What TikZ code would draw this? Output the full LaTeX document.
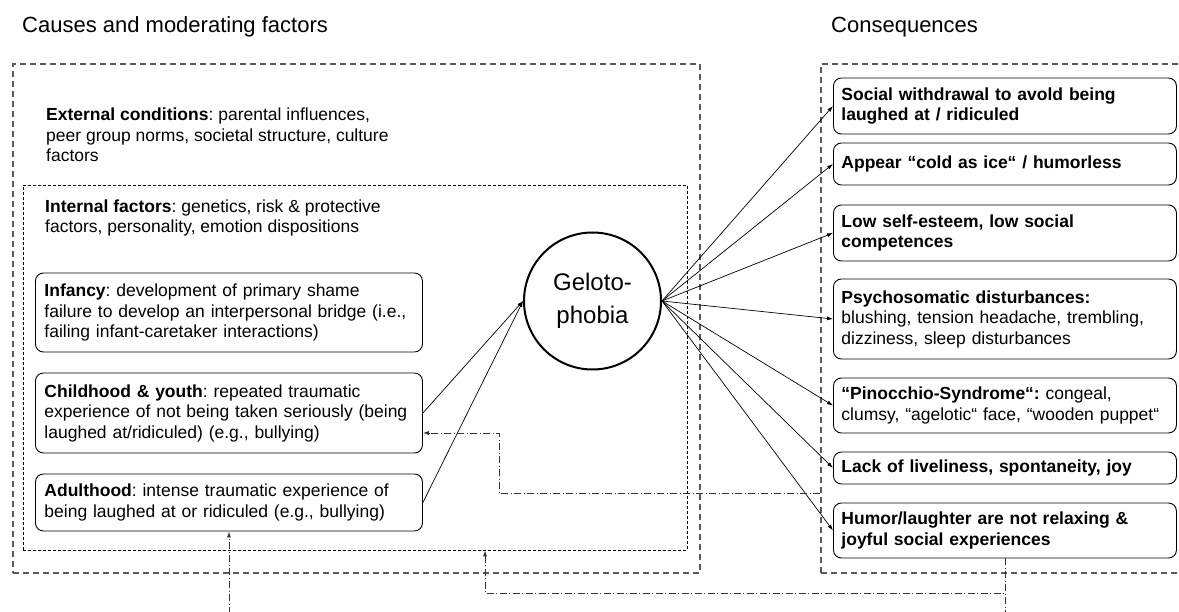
\documentclass[tikz,border=0pt]{standalone}
\usepackage{fontspec}
\setmainfont{Liberation Sans}
\usetikzlibrary{arrows.meta,fit}
\definecolor{framegray}{HTML}{5A5A5A}
\definecolor{linegray}{HTML}{333333}
\frenchspacing

\begin{document}
\begin{tikzpicture}[x=1pt, y=-1pt,
        txt/.style={font=\fontsize{17.5}{20.5}\selectfont, align=left, inner sep=0pt},
        headline/.style={font=\fontsize{22}{26}\selectfont, inner sep=0pt, anchor=west},
        causebox/.style={draw, line width=0.9pt, rounded corners=8pt, txt, text width=369pt, inner xsep=9pt, anchor=west},
        conbox/.style={draw, line width=0.9pt, rounded corners=8pt, txt, text width=327pt, inner xsep=8pt, anchor=west},
        groupbox/.style={draw=framegray, line width=1.1pt, dash pattern=on 6pt off 4pt, inner sep=0pt},
        innerbox/.style={draw, line width=0.7pt, dash pattern=on 3pt off 2pt, inner sep=0pt},
        conn/.style={-{Latex[length=6pt,width=4pt]}, line width=0.7pt},
        feedback/.style={-{Latex[length=6pt,width=4pt]}, draw=linegray, line width=0.8pt, dash pattern=on 7pt off 2.5pt on 1pt off 2.5pt}]
                    \useasboundingbox (0,0) rectangle (1179,612);
                    \clip (0,0) rectangle (1179,612);

                    % 見出し
                    \node[headline] (causestitle) at (22,27) {Causes and moderating factors};
                    \node[headline] (conseqtitle) at (831,27) {Consequences};

                    % 枠
                    \node[groupbox, fit={(13,64) (700,573)}] (causes) {};
                    \node[innerbox, fit={(23,185) (687,550)}] (internal) {};
                    \node[groupbox, fit={(821,64) (1200,573)}] (conseq) {};

                    % 原因
                    \node[txt, anchor=west] (external) at (46,135) {\textbf{External conditions}: parental influences,\\peer group norms, societal structure, culture\\factors};
                    \node[txt, anchor=west] (internaltxt) at (45,218) {\textbf{Internal factors}: genetics, risk \& protective\\factors, personality, emotion dispositions};
                    \node[causebox, minimum height=79pt] (infancy) at (35,312.5) {\textbf{Infancy}: development of primary shame\\failure to develop an interpersonal bridge (i.e.,\\failing infant-caretaker interactions)};
                    \node[causebox, minimum height=80pt] (childhood) at (35,413) {\textbf{Childhood \& youth}: repeated traumatic\\experience of not being taken seriously (being\\laughed at/ridiculed) (e.g., bullying)};
                    \node[causebox, minimum height=57pt] (adulthood) at (35,502.5) {\textbf{Adulthood}: intense traumatic experience of\\being laughed at or ridiculed (e.g., bullying)};

                    \node[circle, draw, line width=2pt, minimum size=137pt, inner sep=0pt, align=center, font=\fontsize{24}{33}\selectfont] (geloto) at (592.5,301) {Geloto-\\phobia};

                    % 結果
                    \node[conbox, minimum height=56pt] (withdrawal) at (833,106) {\bfseries Social withdrawal to avold being\\laughed at / ridiculed};
                    \node[conbox, minimum height=42pt] (cold) at (833,164) {\bfseries Appear “cold as ice“ / humorless};
                    \node[conbox, minimum height=56pt] (esteem) at (833,233) {\bfseries Low self-esteem, low social\\competences};
                    \node[conbox, minimum height=80pt] (somatic) at (833,319) {\textbf{Psychosomatic disturbances:}\\blushing, tension headache, trembling,\\dizziness, sleep disturbances};
                    \node[conbox, minimum height=55pt] (pinocchio) at (833,405.5) {\textbf{“Pinocchio-Syndrome“:} congeal,\\clumsy, “agelotic“ face, “wooden puppet“};
                    \node[conbox, minimum height=32pt] (liveliness) at (833,468) {\bfseries Lack of liveliness, spontaneity, joy};
                    \node[conbox, minimum height=55pt] (humor) at (833,530.5) {\bfseries Humor/laughter are not relaxing \&\\joyful social experiences};

                    % 矢印
                    \draw[conn] (childhood.east) -- (geloto.west);
                    \draw[conn] (adulthood.east) -- (geloto.west);
                    \foreach \c in {withdrawal, cold, esteem, somatic, pinocchio, liveliness, humor} {
                        \draw[conn] (geloto.east) -- (\c.west);
                    }

                    % フィードバック
                    \coordinate (loopA) at (499,493);
                    \coordinate (loopB) at (485,593);
                    \coordinate (loopC) at ([yshift=-109pt]adulthood.south);
                    \draw[feedback] (conseq.west |- loopA) -- (loopA) |- ([yshift=-20pt]childhood.east);
                    \draw[feedback] (humor.south) |- (loopB) -- (loopB |- internal.south);
                    \draw[feedback] (humor.south) |- (loopC) -- (adulthood.south);
                \end{tikzpicture}
\end{document}
